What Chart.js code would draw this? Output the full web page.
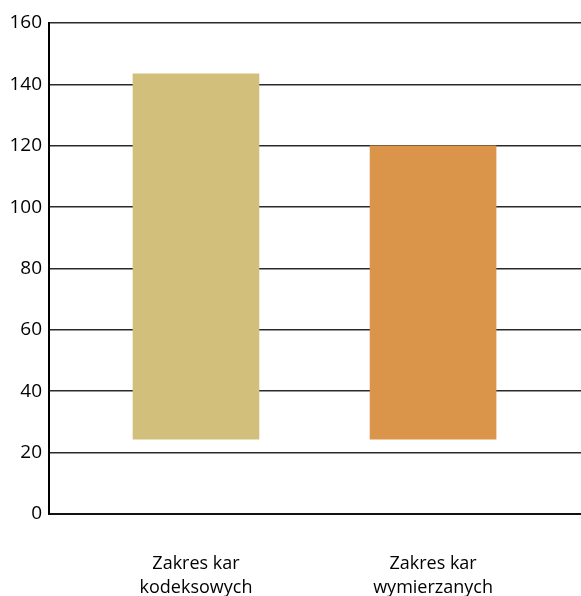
<!DOCTYPE html>
<html>
<head>
<meta charset="utf-8">
<script src="https://cdn.jsdelivr.net/npm/chart.js@4/dist/chart.umd.min.js"></script>
<style>
  html, body { margin: 0; padding: 0; background: #fff; }
  #wrap { width: 581px; height: 596px; }
</style>
</head>
<body>
<div id="wrap"><canvas id="chart"></canvas></div>
<script>
// categories and the floating ranges (low..high) of each bar
const categories = [['Zakres kar', 'kodeksowych'], ['Zakres kar', 'wymierzanych']];
const lows = [24.4, 24.4];
const highs = [143.4, 120];
const barColors = ['rgb(210, 191, 124)', 'rgb(218, 149, 74)'];
const yTicks = [0, 20, 40, 60, 80, 100, 120, 140, 160];

const points = categories.map((c, i) => ({ x: i + 1, y: [lows[i], highs[i]] }));

new Chart(document.getElementById('chart'), {
    type: 'bar',
    data: {
        datasets: [{
            data: points,
            backgroundColor: barColors,
            barThickness: 126,
            borderWidth: 0
        }]
    },
    options: {
        responsive: true,
        maintainAspectRatio: false,
        animation: false,
        layout: { padding: { top: 23, right: 0, left: 0, bottom: 0 } },
        plugins: { legend: { display: false }, tooltip: { enabled: false } },
        scales: {
            x: {
                type: 'linear',
                offset: false,
                min: 0.38,
                max: 2.624,
                grid: { display: false, drawTicks: false, offset: false },
                border: { display: true, color: '#111', width: 2 },
                afterBuildTicks: axis => { axis.ticks = categories.map((c, i) => ({ value: i + 1 })); },
                afterFit: axis => { axis.height = 82; },
                ticks: {
                    padding: 38,
                    color: '#000',
                    maxRotation: 0,
                    font: { family: 'Open Sans', size: 18, lineHeight: 1.32 },
                    callback: v => categories[v - 1]
                }
            },
            y: {
                min: 0,
                max: 160,
                afterBuildTicks: axis => { axis.ticks = yTicks.map(v => ({ value: v })); },
                afterFit: axis => { axis.width = 49; },
                grid: { color: '#2a2a2a', lineWidth: 1.6, drawTicks: false },
                border: { display: true, color: '#000', width: 2 },
                ticks: {
                    padding: 7,
                    color: '#000',
                    font: { family: 'Open Sans', size: 19 }
                }
            }
        }
    }
});
</script>
</body>
</html>
